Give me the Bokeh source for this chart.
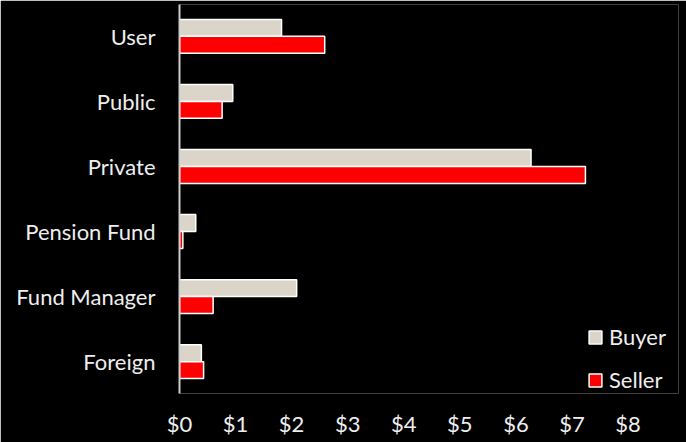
from bokeh.plotting import figure
from bokeh.models import Range1d, FixedTicker, ColumnDataSource, Legend, LegendItem
from bokeh.transform import dodge
from bokeh.embed import file_html
from bokeh.resources import INLINE

categories = ["User", "Public", "Private", "Pension Fund", "Fund Manager", "Foreign"]
buyer = [1.82, 0.95, 6.27, 0.29, 2.09, 0.39]
seller = [2.59, 0.76, 7.24, 0.06, 0.60, 0.43]
x_ticks = [0, 1, 2, 3, 4, 5, 6, 7, 8]
x_tick_labels = ["$0", "$1", "$2", "$3", "$4", "$5", "$6", "$7", "$8"]

FONT = "Lato"
BUYER_COLOR = "#dbd5c9"
SELLER_COLOR = "#ff0000"

pos = list(range(len(categories)))
src = ColumnDataSource(dict(y=pos, buyer=buyer, seller=seller))

p = figure(width=686, height=442, output_backend="svg", toolbar_location=None,
           x_range=Range1d(0, 8.90), y_range=Range1d(5.49, -0.49),
           min_border_left=179, min_border_right=8, min_border_top=4, min_border_bottom=49,
           background_fill_color="black", border_fill_color="black")
p.outline_line_color = None
p.outline_line_alpha = 0
p.xgrid.visible = False
p.ygrid.visible = False

r1 = p.hbar(y=dodge("y", -0.13), right="buyer", left=0, height=0.26, source=src,
            fill_color=BUYER_COLOR, line_color="white", line_width=1.5)
r2 = p.hbar(y=dodge("y", 0.13), right="seller", left=0, height=0.26, source=src,
            fill_color=SELLER_COLOR, line_color="white", line_width=1.5)

# y axis
p.yaxis.ticker = FixedTicker(ticks=pos)
p.yaxis.major_label_overrides = {i: c for i, c in zip(pos, categories)}
p.yaxis.major_tick_line_color = None
p.yaxis.minor_tick_line_color = None
p.yaxis.axis_line_color = "#cccccc"
p.yaxis.axis_line_width = 2
p.yaxis.major_label_text_color = "#eeeeee"
p.yaxis.major_label_text_font = FONT
p.yaxis.major_label_text_font_size = "22px"
p.yaxis.major_label_standoff = 18

# x axis
p.xaxis.ticker = FixedTicker(ticks=x_ticks)
p.xaxis.major_label_overrides = {t: l for t, l in zip(x_ticks, x_tick_labels)}
p.xaxis.major_tick_line_color = None
p.xaxis.minor_tick_line_color = None
p.xaxis.axis_line_color = None
p.xaxis.major_label_text_color = "#eeeeee"
p.xaxis.major_label_text_font = FONT
p.xaxis.major_label_text_font_size = "22px"
p.xaxis.major_label_standoff = 10

legend = Legend(items=[LegendItem(label="Buyer", renderers=[r1]),
                       LegendItem(label="Seller", renderers=[r2])],
                location=(408, 0))
legend.background_fill_alpha = 0
legend.border_line_color = None
legend.label_text_color = "#eeeeee"
legend.label_text_font = FONT
legend.label_text_font_size = "22px"
legend.glyph_width = 16
legend.glyph_height = 16
legend.label_standoff = 6
legend.spacing = 16
legend.padding = 0
legend.margin = 0
p.add_layout(legend, "center")

open("out.html", "w").write(file_html(p, INLINE))
